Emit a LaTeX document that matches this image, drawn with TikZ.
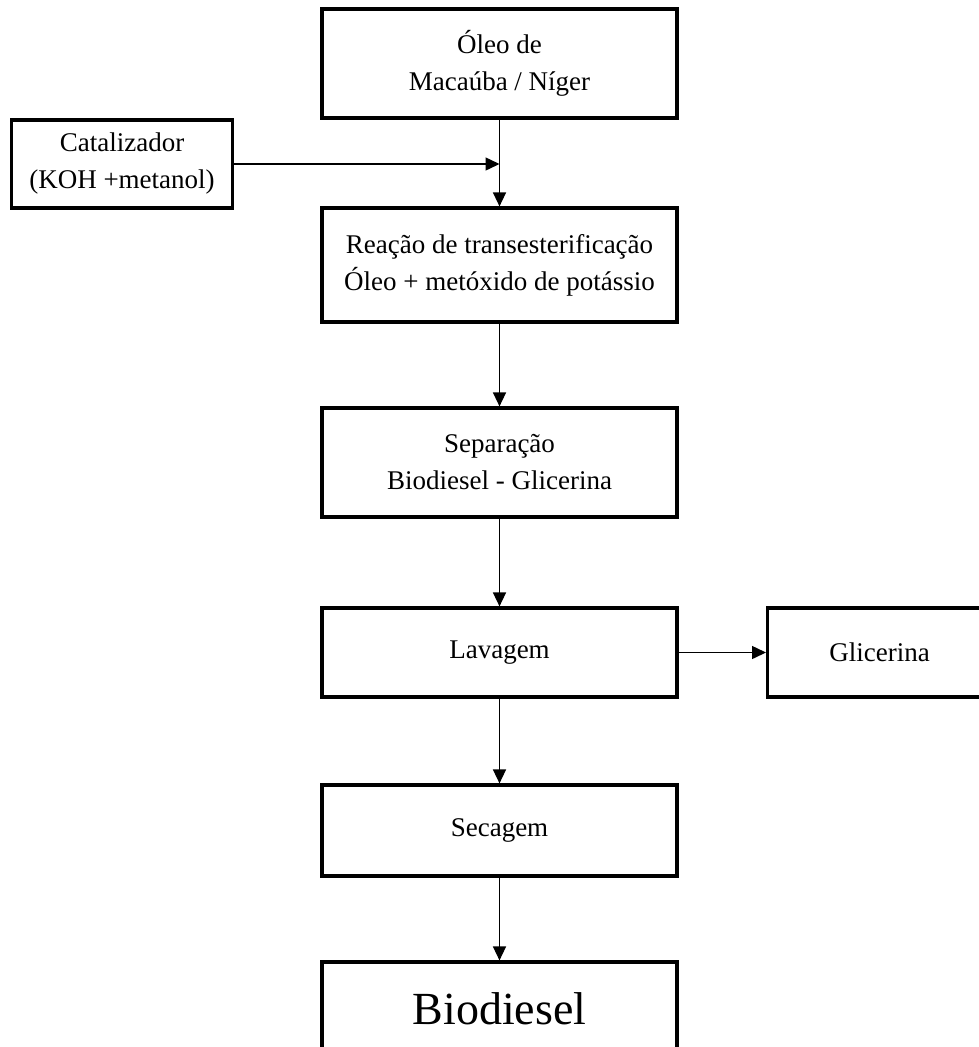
\documentclass[tikz,border=0pt]{standalone}
\usepackage{fontspec}
\setmainfont{Liberation Serif}
\usetikzlibrary{arrows.meta}
\begin{document}
\begin{tikzpicture}[x=1pt,y=-1pt,
  boxnode/.style={draw=black, line width=3.2pt, rectangle, inner sep=0pt, align=center,
     font=\fontsize{27}{37}\selectfont},
  conn/.style={draw=black, line width=1.5pt, -{Triangle[length=14pt,width=13pt]}}]
\clip (0,0) rectangle (979,1047);
\fill[white] (0,0) rectangle (979,1047);
\node[boxnode, minimum width=355pt, minimum height=109pt] (top) at (499.5,63.5) {Óleo de\\Macaúba / Níger};
\node[boxnode, minimum width=221pt, minimum height=88pt] (cat) at (122,164) {Catalizador\\(KOH +metanol)};
\node[boxnode, minimum width=355pt, minimum height=114pt] (reac) at (499.5,265) {Reação de transesterificação\\Óleo + metóxido de potássio};
\node[boxnode, minimum width=355pt, minimum height=109pt] (sep) at (499.5,462.5) {Separação\\Biodiesel - Glicerina};
\node[boxnode, minimum width=355pt, minimum height=89pt] (lav) at (499.5,652.5) {\raisebox{-3pt}{Lavagem}};
\node[boxnode, minimum width=224pt, minimum height=89pt, anchor=west] (gli) at (766,652.5) {\raisebox{-3pt}{Glicerina}};
\node[boxnode, minimum width=355pt, minimum height=91pt] (sec) at (499.5,830.5) {\raisebox{-3pt}{Secagem}};
\node[boxnode, minimum width=355pt, minimum height=94pt, font=\fontsize{46}{50}\selectfont] (bio) at (499.5,1009) {Biodiesel};
\coordinate (join) at (top.south |- cat.east);
\draw[conn] (top.south) -- (reac.north);
\draw[conn] (cat.east) -- (join);
\draw[conn] (sep.north |- reac.south) -- (sep.north);
\draw[conn] (lav.north |- sep.south) -- (lav.north);
\draw[conn] (lav.east) -- (gli.west);
\draw[conn] (sec.north |- lav.south) -- (sec.north);
\draw[conn] (bio.north |- sec.south) -- (bio.north);
\end{tikzpicture}
\end{document}
